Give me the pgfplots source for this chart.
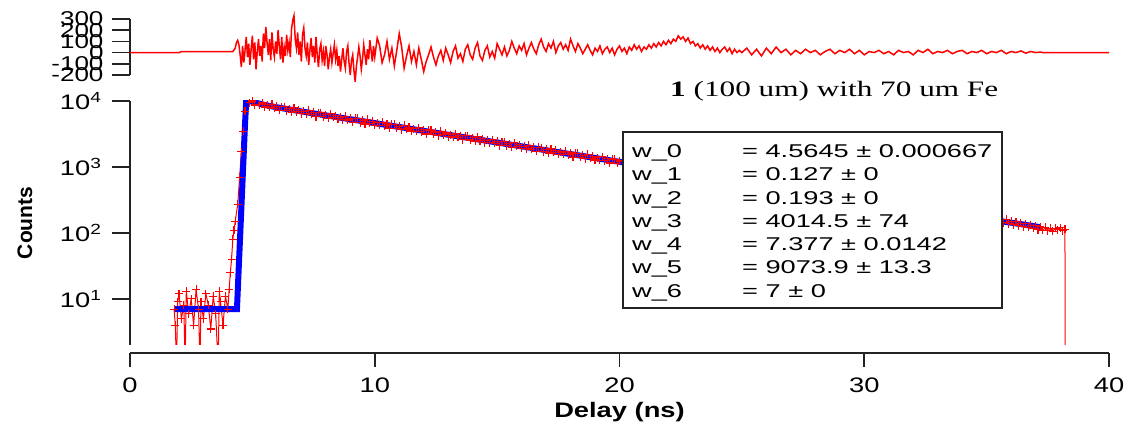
\documentclass[border=0pt]{standalone}
\usepackage{fontspec}
\setmainfont[FakeStretch=1.3]{Liberation Sans}
\newfontfamily\plainsans{Liberation Sans}
\newfontfamily\legsans[FakeStretch=1.47]{Liberation Sans}
\newfontfamily\ressans[FakeStretch=1.3]{Liberation Sans}
\newfontfamily\annfont[FakeStretch=1.42]{Liberation Serif}
\usepackage{pgfplots}
\pgfplotsset{compat=1.18}
\definecolor{axgray}{RGB}{35,35,35}
\begin{document}
\begin{tikzpicture}[x=1pt,y=1pt]
\path[use as bounding box] (0,0) rectangle (1134,430);
% ---------------- residual panel ----------------
\begin{axis}[at={(130pt,355pt)}, anchor=south west, scale only axis,
  width=979pt, height=56pt, xmin=0, xmax=40, ymin=-200, ymax=300,
  axis x line=none, axis y line*=left, tick align=outside,
  major tick length=18pt,
  axis line style={line width=1.6pt, axgray},
  tick style={line width=1.6pt, axgray},
  ytick={-200,-100,0,100,200,300},
  yticklabels={-200,-100,0,100,200,300},
  yticklabel style={font=\ressans\fontsize{20}{20}\selectfont, xshift=-5pt},
  clip=false]
\addplot[red, line width=1.5pt, no marks] coordinates {
(0,0) (2.0,0) (2.1,8) (4.2,8)
(4.30,40) (4.35,90) (4.40,110) (4.45,70) (4.50,-20) (4.55,-130) (4.60,60) (4.65,-90) (4.70,20)
(4.75,140) (4.80,-40) (4.85,80) (4.90,-110) (4.95,30) (5.00,150) (5.05,-60) (5.10,90) (5.15,-150)
(5.20,10) (5.25,120) (5.30,-30) (5.35,60) (5.40,-80) (5.45,170) (5.50,40) (5.55,230) (5.60,90)
(5.65,-20) (5.70,120) (5.75,-70) (5.80,180) (5.85,30) (5.90,-40) (5.95,100) (6.00,-10) (6.05,200)
(6.10,60) (6.15,-60) (6.20,140) (6.25,-90) (6.30,50) (6.35,-30) (6.40,160) (6.45,20) (6.50,90)
(6.55,-40) (6.60,210) (6.65,290) (6.70,330) (6.75,120) (6.80,40) (6.85,180) (6.90,-20) (6.95,100)
(7.00,-80) (7.05,160) (7.10,220) (7.15,40) (7.20,-30) (7.25,90) (7.30,-110) (7.35,20) (7.40,130)
(7.45,-40) (7.50,60) (7.55,-90) (7.60,140) (7.65,-20) (7.70,-130) (7.75,30) (7.80,80) (7.85,-70)
(7.90,10) (7.95,-120) (8.00,60) (8.05,-20) (8.10,-150) (8.15,-40) (8.20,30) (8.25,-90) (8.30,-10)
(8.35,70) (8.40,-60) (8.45,20) (8.50,-120) (8.55,-30) (8.60,-170) (8.65,-60) (8.70,40) (8.75,-80)
(8.80,-140) (8.85,10) (8.90,60) (8.95,-100) (9.00,-200) (9.05,-70) (9.10,-20) (9.15,-160) (9.20,-260)
(9.25,-120) (9.30,-40) (9.35,50) (9.40,-30) (9.45,-150) (9.50,-60) (9.55,70) (9.60,-20) (9.65,-110)
(9.70,30) (9.75,-60) (9.80,110) (9.85,20) (9.90,-80) (9.95,60) (10.00,-40)
(10.1,130) (10.2,60) (10.3,-90) (10.4,-20) (10.5,100) (10.6,-60) (10.7,40) (10.8,-120) (10.9,20)
(11.0,170) (11.1,50) (11.2,-140) (11.3,-30) (11.4,60) (11.5,-80) (11.6,10) (11.7,-110) (11.8,40)
(11.9,-60) (12.0,-170) (12.1,-80) (12.2,-20) (12.3,50) (12.4,-40) (12.5,-110) (12.6,-30) (12.7,20)
(12.8,-70) (12.9,40) (13.0,-20) (13.1,-90) (13.2,10) (13.3,60) (13.4,-50) (13.5,-10) (13.6,-80)
(13.7,30) (13.8,70) (13.9,-20) (14.0,-60) (14.1,40) (14.2,90) (14.3,-30) (14.4,-70) (14.5,20)
(14.6,60) (14.7,-40) (14.8,10) (14.9,-50) (15.0,80) (15.1,30) (15.2,-20) (15.3,50) (15.4,-30)
(15.5,20) (15.6,100) (15.7,40) (15.8,-10) (15.9,60) (16.0,20) (16.1,80) (16.2,-20) (16.3,40)
(16.4,90) (16.5,30) (16.6,-10) (16.7,70) (16.8,120) (16.9,50) (17.0,10) (17.1,80) (17.2,40)
(17.3,100) (17.4,0) (17.5,60) (17.6,90) (17.7,30) (17.8,70) (17.9,20) (18.0,120) (18.1,60)
(18.2,10) (18.3,80) (18.4,40) (18.5,-10) (18.6,30) (18.7,70) (18.8,20) (18.9,-20) (19.0,40)
(19.1,10) (19.2,60) (19.3,-10) (19.4,30) (19.5,50) (19.6,0) (19.7,40) (19.8,-20) (19.9,30)
(20.0,60) (20.1,10) (20.2,40) (20.3,-10) (20.4,50) (20.5,20) (20.6,70) (20.7,30) (20.8,60)
(20.9,10) (21.0,50) (21.1,30) (21.2,70) (21.3,40) (21.4,80) (21.5,50) (21.6,90) (21.7,60)
(21.8,100) (21.9,70) (22.0,110) (22.1,80) (22.2,120) (22.3,100) (22.4,150) (22.5,120) (22.6,140)
(22.7,100) (22.8,130) (22.9,80) (23.0,100) (23.1,60) (23.2,80) (23.3,40) (23.4,70) (23.5,30)
(23.6,60) (23.7,20) (23.8,50) (23.9,10) (24.0,40) (24.1,0) (24.2,30) (24.3,50) (24.4,10)
(24.5,40) (24.6,-10) (24.7,30) (24.8,0) (24.9,20)
(25.0,0) (25.2,40) (25.4,-20) (25.6,30) (25.8,-30) (26.0,40) (26.2,-10)
(26.4,50) (26.6,0) (26.8,30) (27.0,-20) (27.2,20) (27.4,-10) (27.6,30) (27.8,0) (28.0,20)
(28.2,-20) (28.4,10) (28.6,30) (28.8,-10) (29.0,20) (29.2,0) (29.4,30) (29.6,-10) (29.8,20)
(30.0,-20) (30.2,10) (30.4,0) (30.6,20) (30.8,-10) (31.0,10) (31.2,-20) (31.4,20) (31.6,0)
(31.8,10) (32.0,-20) (32.2,20) (32.4,0) (32.6,30) (32.8,-10) (33.0,10) (33.2,0) (33.4,20)
(33.6,-10) (33.8,10) (34.0,20) (34.2,-10) (34.4,10) (34.6,0) (34.8,20) (35.0,-10) (35.2,10)
(35.4,0) (35.6,20) (35.8,-10) (36.0,10) (36.2,0) (36.4,15) (36.6,-5) (36.8,10) (37.0,0)
(37.2,5) (37.3,0) (40,0)
};
\end{axis}
% ---------------- main panel ----------------
\begin{axis}[at={(130pt,85pt)}, anchor=south west, scale only axis,
  width=979pt, height=244pt, xmin=0, xmax=40,
  ymode=log, ymin=2, ymax=10000,
  axis x line=none, axis y line*=left, tick align=outside,
  major tick length=18pt, yminorticks=false,
  axis line style={line width=1.6pt, axgray},
  tick style={line width=1.6pt, axgray},
  ytick={10,100,1000,10000},
  yticklabels={10\textsuperscript{1},10\textsuperscript{2},10\textsuperscript{3},10\textsuperscript{4}},
  yticklabel style={font=\fontsize{21}{21}\selectfont, xshift=-7pt},
  ylabel={Counts},
  ylabel style={font=\plainsans\bfseries\fontsize{21}{21}\selectfont, at={(axis description cs:-0.1073,0.5)}, anchor=center}]
\addplot[red, line width=1pt, mark=+, mark size=4pt, mark options={line width=1.1pt, solid}] coordinates {
(1.80,7) (1.85,4) (1.90,1) (1.95,9) (2.00,12) (2.10,5) (2.20,8) (2.25,1) (2.30,13) (2.40,6)
(2.50,10) (2.60,4) (2.70,14) (2.80,7) (2.86,1) (2.90,9) (3.00,5) (3.10,12) (3.20,8) (3.30,3.5)
(3.40,11) (3.50,6) (3.60,1) (3.65,13) (3.70,9) (3.80,4) (3.90,11) (4.00,7) (4.05,14) (4.10,25)
(4.15,40) (4.20,80) (4.25,110) (4.30,150) (4.40,270) (4.48,700) (4.55,1700) (4.62,3500) (4.70,7000)
(4.75,10800)
(4.8,10960) (4.9,9350) (5.0,9985) (5.1,8705) (5.2,10084) (5.3,8786) (5.4,9324) (5.5,8104) (5.6,8731)
(5.7,7993) (5.8,8937) (5.9,7817) (6.0,8338) (6.1,7184) (6.2,8245) (6.3,8200) (6.4,7100) (6.5,7668)
(6.6,6753) (6.7,7888) (6.8,6918) (6.9,7383) (7.0,6450) (7.1,6980) (7.2,6413) (7.3,7193) (7.4,6307)
(7.5,6741) (7.6,5819) (7.7,6688) (7.8,6660) (7.9,5772) (8.0,6240) (8.1,5498) (8.2,6427) (8.3,5642)
(8.4,6025) (8.5,5265) (8.6,5697) (8.7,5235) (8.8,5871) (8.9,5148) (9.0,5503) (9.1,4750) (9.2,5458)
(9.3,5436) (9.4,4711) (9.5,5093) (9.6,4488) (9.7,5246) (9.8,4606) (9.9,4918) (10.0,4298) (10.1,4650)
(10.2,4273) (10.3,4792) (10.4,4202) (10.5,4492) (10.6,3877) (10.7,4455) (10.8,4437) (10.9,3846)
(11.0,4157) (11.1,3663) (11.2,4282) (11.3,3759) (11.4,4014) (11.5,3508) (11.6,3795) (11.7,3487)
(11.8,3912) (11.9,3430) (12.0,3666) (12.1,3165) (12.2,3637) (12.3,3622) (12.4,3139) (12.5,3394)
(12.6,2990) (12.7,3496) (12.8,3069) (12.9,3277) (13.0,2864) (13.1,3099) (13.2,2847) (13.3,3194)
(13.4,2800) (13.5,2993) (13.6,2583) (13.7,2969) (13.8,2957) (13.9,2563) (14.0,2771) (14.1,2442)
(14.2,2854) (14.3,2506) (14.4,2675) (14.5,2338) (14.6,2530) (14.7,2325) (14.8,2607) (14.9,2287)
(15.0,2444) (15.1,2109) (15.2,2424) (15.3,2414) (15.4,2092) (15.5,2262) (15.6,1994) (15.7,2330)
(15.8,2046) (15.9,2185) (16.0,1909) (16.1,2066) (16.2,1898) (16.3,2129) (16.4,1867) (16.5,1996)
(16.6,1723) (16.7,1980) (16.8,1972) (16.9,1709) (17.0,1847) (17.1,1627) (17.2,1903) (17.3,1670)
(17.4,1784) (17.5,1559) (17.6,1687) (17.7,1550) (17.8,1739) (17.9,1524) (18.0,1630) (18.1,1407)
(18.2,1617) (18.3,1610) (18.4,1395) (18.5,1509) (18.6,1329) (18.7,1554) (18.8,1364) (18.9,1457)
(19.0,1273) (19.1,1378) (19.2,1265) (19.3,1420) (19.4,1245) (19.5,1331) (19.6,1148) (19.7,1321)
(19.8,1315) (19.9,1140) (20.0,1232)
(35.6,158) (35.7,142) (35.8,160) (35.9,138) (36.0,151) (36.1,133) (36.2,147) (36.3,128) (36.4,140)
(36.5,125) (36.6,138) (36.7,122) (36.8,131) (36.9,118) (37.0,128) (37.1,112) (37.2,124) (37.3,110)
(37.4,121) (37.5,108) (37.6,118) (37.7,106) (37.8,117) (37.9,112) (38.0,119) (38.1,108) (38.2,114)
(38.21,1)
};
\addplot[blue, line width=6pt, no marks] coordinates {
(1.8,7) (4.37,7) (4.45,34) (4.50,89) (4.55,240) (4.60,630) (4.65,1700) (4.70,4500) (4.75,10400)
(5.0,9701) (5.5,8721) (6.0,8024) (7.0,6947) (8.0,6058) (9.0,5291) (10,4621) (11,4036) (12,3525)
(13,3080) (14,2690) (15,2350) (16,2053) (17,1793) (18,1567) (19,1369) (20,1196) (21,1046)
(24,699) (28,409) (32,241) (35.5,152) (36,143) (36.5,134) (37.2,122)
};
\end{axis}
% ---------------- x axis ----------------
\begin{axis}[at={(130pt,77pt)}, anchor=south west, scale only axis,
  width=979pt, height=10pt, xmin=0, xmax=40, ymin=0, ymax=1,
  axis y line=none, axis x line*=bottom, tick align=outside,
  major tick length=14pt,
  axis line style={line width=1.6pt, axgray},
  tick style={line width=1.6pt, axgray},
  xtick={0,10,20,30,40},
  /pgf/number format/assume math mode=true,
  xticklabel style={font=\fontsize{21}{21}\selectfont, yshift=-7pt},
  xlabel={Delay (ns)},
  xlabel style={font=\bfseries\fontsize{21}{21}\selectfont, at={(axis description cs:0.5,-6.4)}, anchor=base}]
\end{axis}
% ---------------- fit result box ----------------
\draw[line width=1.6pt, draw=axgray, fill=white] (623,122) rectangle (1002,298);
\begin{scope}[every node/.style={anchor=base west, inner sep=0pt, font=\legsans\fontsize{18.5}{18.5}\selectfont}]
\node at (632,272.5) {w\_0}; \node at (742,272.5) {= 4.5645 ± 0.000667};
\node at (632,249.2) {w\_1}; \node at (742,249.2) {= 0.127 ± 0};
\node at (632,225.9) {w\_2}; \node at (742,225.9) {= 0.193 ± 0};
\node at (632,202.6) {w\_3}; \node at (742,202.6) {= 4014.5 ± 74};
\node at (632,179.3) {w\_4}; \node at (742,179.3) {= 7.377 ± 0.0142};
\node at (632,156.0) {w\_5}; \node at (742,156.0) {= 9073.9 ± 13.3};
\node at (632,132.7) {w\_6}; \node at (742,132.7) {= 7 ± 0};
\end{scope}
\node[anchor=base west, inner sep=0pt, font=\annfont\fontsize{22}{22}\selectfont] at (670,333.3) {\textbf{1} (100 um) with 70 um Fe};
\end{tikzpicture}
\end{document}
